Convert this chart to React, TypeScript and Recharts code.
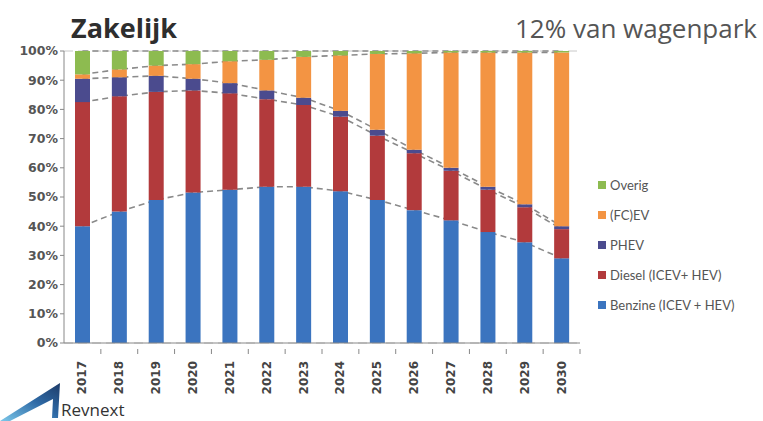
import React from 'react'
import {
  ComposedChart,
  Bar,
  Line,
  XAxis,
  YAxis,
  CartesianGrid
} from 'recharts'

const years = ['2017', '2018', '2019', '2020', '2021', '2022', '2023', '2024', '2025', '2026', '2027', '2028', '2029', '2030']
const benzine = [40, 45, 49, 51.5, 52.5, 53.5, 53.5, 52, 49, 45.5, 42, 38, 34.5, 29]
const diesel = [42.5, 39.5, 37, 35, 33, 30, 28, 25.5, 22, 19.5, 17, 14.5, 12, 10]
const phev = [8, 6.5, 5.5, 4, 3.5, 3, 2.5, 2, 2, 1.2, 1, 1, 1, 1]
const fcev = [1.5, 2.7, 3.5, 5, 7.5, 10.5, 14, 19, 26, 33, 39.5, 46, 52, 59.5]
const overig = [8, 6.3, 5, 4.5, 3.5, 3, 2, 1.5, 1, 0.8, 0.5, 0.5, 0.5, 0.5]
const yTicks = [0, 10, 20, 30, 40, 50, 60, 70, 80, 90, 100]

const series = [
  { key: 'benzine', name: 'Benzine (ICEV + HEV)', color: '#3b74bf' },
  { key: 'diesel', name: 'Diesel (ICEV+ HEV)', color: '#b23a3c' },
  { key: 'phev', name: 'PHEV', color: '#4b4b8e' },
  { key: 'fcev', name: '(FC)EV', color: '#f39443' },
  { key: 'overig', name: 'Overig', color: '#8dbb50' }
]

// stacked values + cumulative tops for the dashed series lines
const data = years.map((y, i) => {
  const t1 = benzine[i]
  const t2 = t1 + diesel[i]
  const t3 = t2 + phev[i]
  const t4 = t3 + fcev[i]
  const t5 = t4 + overig[i]
  return {
    year: y,
    benzine: benzine[i],
    diesel: diesel[i],
    phev: phev[i],
    fcev: fcev[i],
    overig: overig[i],
    t1, t2, t3, t4, t5
  }
})

const W = 763
const H = 421
const M = { top: 51, right: 183, bottom: 0, left: 8 }
const Y_W = 56
const X_H = 78
const PLOT_W = W - M.left - M.right - Y_W
const BAND = PLOT_W / years.length

const XTick = (props: any) => {
  const { x, y, payload } = props
  return (
    <g>
      <line x1={x + BAND / 2} y1={y - 12} x2={x + BAND / 2} y2={y - 7} stroke="#888" />
      <text
        x={x}
        y={y}
        dy={4}
        transform={`rotate(-90, ${x}, ${y})`}
        textAnchor="end"
        fontSize={12}
        fontWeight="bold"
        fill="#444"
        fontFamily="DejaVu Sans"
      >
        {payload.value}
      </text>
    </g>
  )
}

const Logo = () => (
  <svg width={140} height={40} style={{ position: 'absolute', left: 0, top: 381 }}>
    <defs>
      <linearGradient id="logoGrad" x1="0" y1="1" x2="1" y2="0">
        <stop offset="0%" stopColor="#7cc8ea" />
        <stop offset="55%" stopColor="#2f6aa6" />
        <stop offset="100%" stopColor="#1d3b68" />
      </linearGradient>
    </defs>
    <polygon points="0,40 60,2 58,37 52,37 53,18 10,40" fill="url(#logoGrad)" />
    <text x={61} y={35} fontSize={17} fill="#333" fontFamily="Open Sans">Revnext</text>
  </svg>
)

const layer: React.CSSProperties = { position: 'absolute', left: 0, top: 0 }

export default function App() {
  const legendItems = [...series].reverse()
  return (
    <div style={{ position: 'absolute', left: 0, top: 0, width: W, height: H, background: '#fff', overflow: 'hidden' }}>
      <div style={{ position: 'absolute', left: 71, top: 9, fontFamily: 'Open Sans', fontWeight: 700, fontSize: 27, color: '#2e2e2e' }}>
        Zakelijk
      </div>
      <div style={{ position: 'absolute', right: 6, top: 10, fontFamily: 'Open Sans', fontSize: 26, color: '#555' }}>
        12% van wagenpark
      </div>
      {/* grid and series lines sit under the bars */}
      <div style={layer}>
        <ComposedChart width={W} height={H} data={data} margin={M} barCategoryGap={0}>
          <CartesianGrid vertical={false} stroke="#c8c8c8" strokeDasharray="9 5" />
          <XAxis dataKey="year" height={X_H} tick={false} tickLine={false} axisLine={false} interval={0} />
          <YAxis width={Y_W} domain={[0, 100]} ticks={yTicks} tick={false} tickLine={false} axisLine={false} />
          <Bar dataKey="t5" fill="#fff" fillOpacity={0} barSize={15} isAnimationActive={false} />
          {['t1', 't2', 't3', 't4', 't5'].map(k => (
            <Line
              key={k}
              dataKey={k}
              type="linear"
              stroke="#8a8a8a"
              strokeWidth={1.6}
              strokeDasharray="6 4"
              dot={false}
              activeDot={false}
              isAnimationActive={false}
            />
          ))}
        </ComposedChart>
      </div>
      <div style={layer}>
        <ComposedChart width={W} height={H} data={data} margin={M} barCategoryGap={0}>
          <XAxis
            dataKey="year"
            height={X_H}
            tick={<XTick />}
            tickLine={false}
            axisLine={{ stroke: '#888' }}
            interval={0}
            tickMargin={12}
          />
          <YAxis
            width={Y_W}
            domain={[0, 100]}
            ticks={yTicks}
            tickFormatter={(v: number) => `${v}%`}
            tick={{ fontSize: 12.5, fontWeight: 'bold', fill: '#555', fontFamily: 'DejaVu Sans' }}
            tickLine={{ stroke: '#888' }}
            tickSize={4}
            axisLine={{ stroke: '#888' }}
          />
          {series.map(s => (
            <Bar key={s.key} dataKey={s.key} stackId="a" fill={s.color} barSize={15} isAnimationActive={false} />
          ))}
        </ComposedChart>
      </div>
      <div style={{ position: 'absolute', left: 598, top: 170, fontFamily: 'Lato', fontSize: 13, color: '#555' }}>
        {legendItems.map(s => (
          <div key={s.key} style={{ display: 'flex', alignItems: 'center', height: 30 }}>
            <span style={{ width: 8, height: 8, background: s.color, marginRight: 4, display: 'inline-block' }} />
            {s.name}
          </div>
        ))}
      </div>
      <Logo />
    </div>
  )
}
